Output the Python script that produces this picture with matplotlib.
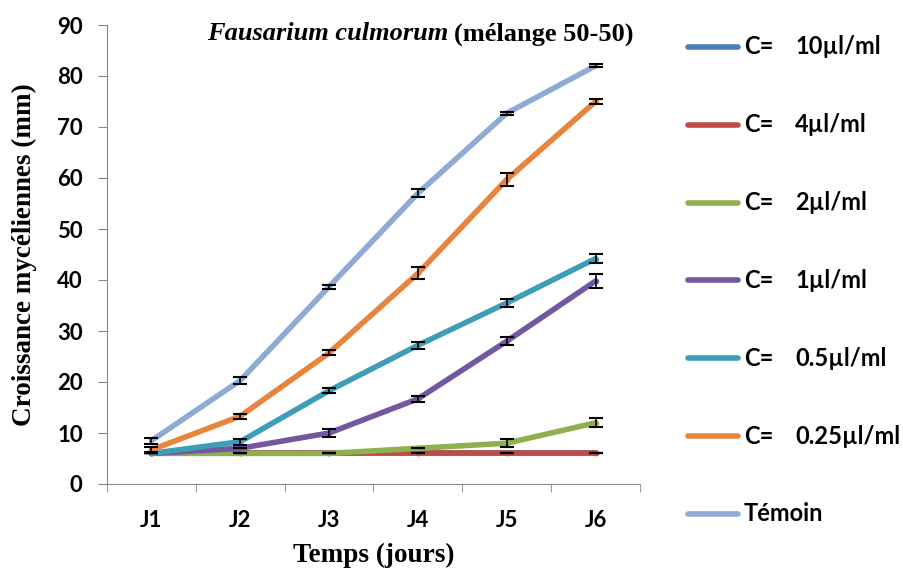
import numpy as np
import matplotlib
matplotlib.use("Agg")
import matplotlib.pyplot as plt
from matplotlib.lines import Line2D

# Croissance mycélienne par jour et par concentration
jours = ["J1", "J2", "J3", "J4", "J5", "J6"]
noms = ["C=", "C=", "C=", "C=", "C=", "C=", "Témoin"]
doses = ["10µl/ml", "4µl/ml", "2µl/ml", "1µl/ml", "0.5µl/ml", "0.25µl/ml", ""]
c10 = [6, 6, 6, 6, 6, 6]
c4 = [6, 6, 6, 6, 6, 6]
c2 = [6, 6, 6, 7, 8, 12]
c1 = [6, 7, 10, 16.7, 28, 39.8]
c05 = [6, 8.3, 18.3, 27.2, 35.5, 44.2]
c025 = [6.7, 13.3, 25.7, 41.3, 59.7, 75]
temoin = [8.5, 20.3, 38.7, 57, 72.7, 82]

err10 = [0, 0, 0, 0, 0, 0]
err4 = [0, 0, 0, 0, 0, 0]
err2 = [0, 0, 0, 0, 0.8, 0.9]
err1 = [0, 0, 0.8, 0.6, 0.8, 1.3]
err05 = [0, 0.6, 0.5, 0.7, 0.8, 0.8]
err025 = [0.5, 0.5, 0.5, 1.2, 1.2, 0.4]
errt = [0.6, 0.7, 0.4, 0.8, 0.3, 0.3]

series = [c10, c4, c2, c1, c05, c025, temoin]
errors = [err10, err4, err2, err1, err05, err025, errt]
colors = ["#4A7EBB", "#BE4B48", "#8EB04E", "#7357A0", "#3E9DB8", "#E8843C", "#8FAAD4"]
markers = ["o", "o", "o", "o", "o", "o", None]

sans = ["Lato", "DejaVu Sans"]
serif = ["Liberation Serif", "DejaVu Serif"]

W, H = 904, 572
fig = plt.figure(figsize=(W / 100, H / 100), dpi=100)
ax = fig.add_axes([107 / W, 1 - 484 / H, 533 / W, 459 / H])

x = np.arange(1, 7)
for y, e, col, m in zip(series, errors, colors, markers):
    ax.plot(x, y, color=col, lw=4, marker=m, markersize=3,
            solid_capstyle="round", zorder=2)
    ax.errorbar(x, y, yerr=e, fmt="none", ecolor="black", elinewidth=1.2,
                capsize=5, capthick=1.5, zorder=3)

ax.set_xlim(0.5, 6.5)
ax.set_ylim(0, 90)
ax.set_yticks(np.arange(0, 91, 10))
ax.set_xticks(x)
ax.set_xticklabels(jours)
ax.set_xticks(np.arange(0.5, 7, 1), minor=True)
ax.tick_params(axis="x", which="major", length=0, pad=19)
ax.tick_params(axis="x", which="minor", length=6, color="#888888")
ax.tick_params(axis="y", length=6.5, color="#888888", pad=11)
for lab in ax.get_xticklabels() + ax.get_yticklabels():
    lab.set_fontfamily(sans)
    lab.set_fontweight("bold")
    lab.set_fontsize(16)

for s in ["top", "right"]:
    ax.spines[s].set_visible(False)
for s in ["left", "bottom"]:
    ax.spines[s].set_color("#888888")

ax.set_xlabel("Temps (jours)", fontfamily=serif, fontweight="bold",
              fontsize=19.5, labelpad=8)
ax.set_ylabel("Croissance mycéliennes (mm)", fontfamily=serif,
              fontweight="bold", fontsize=19.5, labelpad=14)

ax.text(448 / W, 1 - 34 / H, "Fausarium culmorum", transform=fig.transFigure,
        ha="right", va="center", fontfamily=serif, fontstyle="italic",
        fontweight="bold", fontsize=19)
ax.text(454 / W, 1 - 34 / H, "(mélange 50-50)", transform=fig.transFigure,
        ha="left", va="center", fontfamily=serif, fontweight="bold", fontsize=19)

# légende à droite
for i, (nom, dose, col) in enumerate(zip(noms, doses, colors)):
    yl = 1 - (47 + 77.8 * i) / H
    fig.add_artist(Line2D([688 / W, 738 / W], [yl, yl], color=col, lw=4,
                          solid_capstyle="round", transform=fig.transFigure))
    fig.text(744 / W, yl, nom, ha="left", va="center", fontfamily=sans,
             fontweight="bold", fontsize=17)
    if dose:
        fig.text(795 / W, yl, dose, ha="left", va="center", fontfamily=sans,
                 fontweight="bold", fontsize=17)

fig.savefig("out.png", dpi=100)
